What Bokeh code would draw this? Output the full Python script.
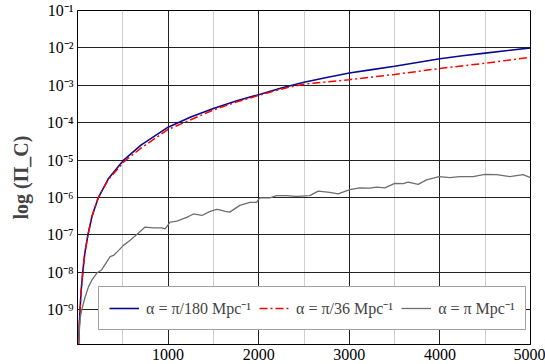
import numpy as np
from bokeh.plotting import figure
from bokeh.models import FixedTicker, CustomJSTickFormatter, Legend, LegendItem
from bokeh.embed import file_html
from bokeh.resources import INLINE

# ---- data (x, log10 of Pi_C) ----
blue_x = [12, 20, 28, 40, 58, 80, 115, 160, 230, 340, 510, 700, 1000, 1250, 1500, 1750, 2000, 2250, 2500,
          2750, 3000, 3250, 3500, 3750, 4000, 4250, 4500, 4750, 5000]
blue_log = [-9.93, -9.4, -9.0, -8.5, -8.0, -7.5, -7.0, -6.5, -6.0, -5.5, -5.0, -4.6, -4.12, -3.85, -3.62, -3.42,
            -3.25, -3.07, -2.92, -2.79, -2.67, -2.58, -2.49, -2.39, -2.29, -2.21, -2.14, -2.07, -2.0]

red_x = [12, 20, 28, 40, 58, 80, 115, 160, 230, 340, 510, 700, 1000, 1250, 1500, 1750, 2000, 2300, 2500,
         2700, 3000, 3500, 4000, 4500, 5000]
red_log = [-9.93, -9.4, -9.0, -8.5, -8.0, -7.5, -7.0, -6.5, -6.0, -5.52, -5.05, -4.68, -4.18, -3.92, -3.66,
           -3.45, -3.27, -3.07, -2.97, -2.92, -2.85, -2.71, -2.55, -2.41, -2.25]

gray_x = [11, 29, 47, 84, 121, 158, 213, 268, 360, 397, 452, 507, 581, 673, 746, 839, 930, 967, 1022, 1096,
          1206, 1280, 1372, 1464, 1538, 1571, 1630, 1681, 1791, 1902, 1975, 2012, 2123, 2196, 2307, 2417, 2564,
          2656, 2785, 2876, 3006, 3116, 3226, 3300, 3392, 3502, 3594, 3649, 3760, 3852, 3991, 4109, 4220, 4367,
          4496, 4625, 4772, 4918, 5000]
gray_log = [-9.9, -9.24, -9.0, -8.66, -8.39, -8.21, -8.02, -7.93, -7.58, -7.55, -7.42, -7.28, -7.14, -6.95,
            -6.79, -6.81, -6.81, -6.84, -6.66, -6.63, -6.53, -6.44, -6.48, -6.37, -6.32, -6.33, -6.37, -6.39,
            -6.21, -6.13, -6.13, -6.01, -6.01, -5.95, -5.95, -5.97, -5.95, -5.83, -5.86, -5.90, -5.79, -5.74,
            -5.75, -5.72, -5.74, -5.62, -5.63, -5.59, -5.65, -5.53, -5.44, -5.47, -5.44, -5.44, -5.38, -5.39,
            -5.44, -5.39, -5.47]

x_ticks = [1000, 2000, 3000, 4000, 5000]
x_minor = [500, 1500, 2500, 3500, 4500]
y_exps = [-9, -8, -7, -6, -5, -4, -3, -2, -1]

labels = ["α = π/180 Mpc⁻¹", "α = π/36 Mpc⁻¹", "α = π Mpc⁻¹"]

serif = "Liberation Serif"

p = figure(frame_width=453, frame_height=334, min_border_left=77, min_border_right=15,
           min_border_top=10, min_border_bottom=20, y_axis_type="log",
           x_range=(0, 5000), y_range=(10 ** -9.93, 10 ** -1),
           output_backend="svg", toolbar_location=None)

r_blue = p.line(blue_x, np.power(10.0, blue_log), line_color="#0a0a8c", line_width=1.6)
r_red = p.line(red_x, np.power(10.0, red_log), line_color="#ff0000", line_width=1.5, line_dash="8 3 2 3")
r_gray = p.line(gray_x, np.power(10.0, gray_log), line_color="#6e6e6e", line_width=1.3)

xt = FixedTicker(ticks=x_ticks, minor_ticks=x_minor)
p.xaxis.ticker = xt
p.xgrid.ticker = xt
p.xgrid.grid_line_color = "#222222"
p.xgrid.minor_grid_line_color = "#cfcfcf"

yt = FixedTicker(ticks=[10.0 ** e for e in y_exps], minor_ticks=[])
p.yaxis.ticker = yt
p.ygrid.ticker = yt
p.ygrid.grid_line_color = "#222222"
p.yaxis.formatter = CustomJSTickFormatter(code="""
const sup = {'-':'⁻','0':'⁰','1':'¹','2':'²','3':'³','4':'⁴','5':'⁵','6':'⁶','7':'⁷','8':'⁸','9':'⁹'};
const e = Math.round(Math.log10(tick));
return '10' + String(e).split('').map(c => sup[c]).join('');
""")

for ax in (p.xaxis[0], p.yaxis[0]):
    ax.major_tick_out = 0
    ax.major_tick_in = 0
    ax.minor_tick_out = 0
    ax.minor_tick_in = 0
    ax.axis_line_color = "black"
    ax.major_label_text_font = serif
    ax.major_label_text_font_size = "16px"
    ax.major_label_text_color = "black"
    ax.major_label_standoff = 4

p.yaxis.axis_label = "log (Π_C)"
p.yaxis.axis_label_text_font = serif
p.yaxis.axis_label_text_font_style = "bold"
p.yaxis.axis_label_text_font_size = "20px"
p.yaxis.axis_label_standoff = 12

p.outline_line_color = "black"
p.outline_line_alpha = 1

legend = Legend(items=[LegendItem(label=labels[0], renderers=[r_blue]),
                       LegendItem(label=labels[1], renderers=[r_red]),
                       LegendItem(label=labels[2], renderers=[r_gray])],
                orientation="horizontal", location=(21, 14))
legend.label_text_font = serif
legend.label_text_font_size = "16px"
legend.border_line_color = "#444444"
legend.border_line_width = 1.5
legend.glyph_width = 30
legend.label_standoff = 7
legend.spacing = 8
legend.padding = 10
legend.margin = 0
legend.background_fill_alpha = 1
p.add_layout(legend, "center")

open("out.html", "w").write(file_html(p, INLINE))
